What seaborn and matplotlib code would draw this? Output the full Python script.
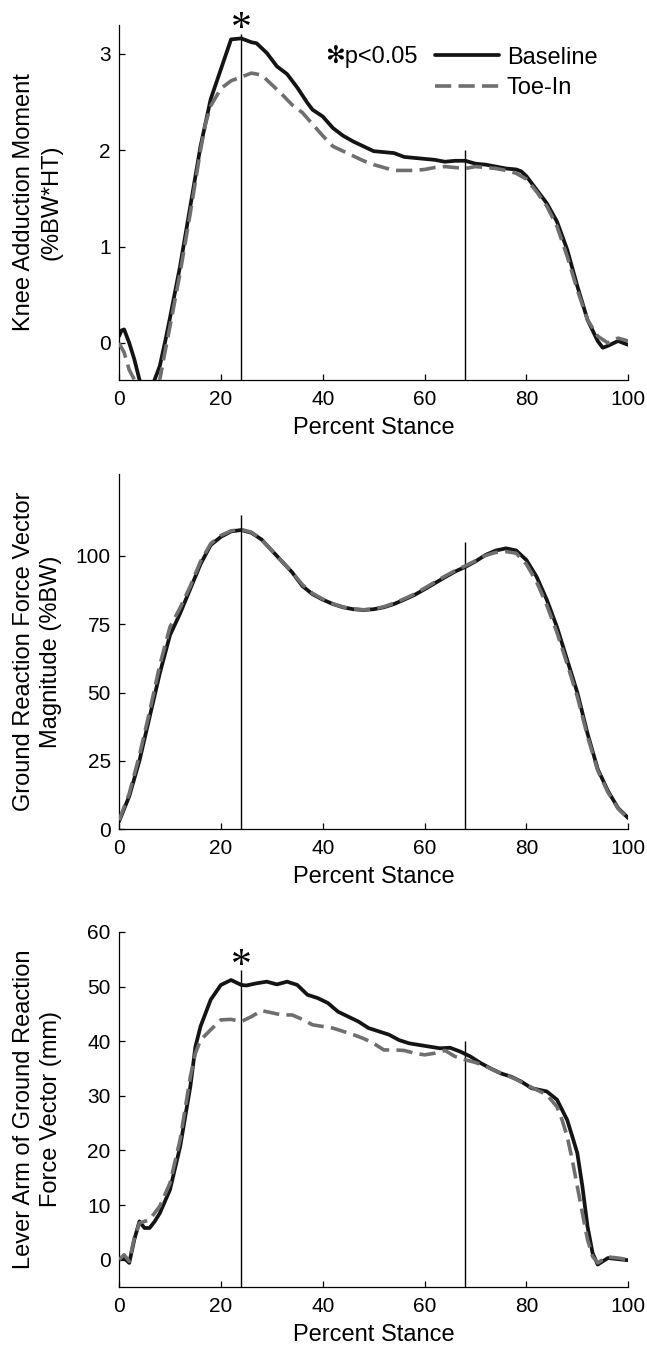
import numpy as np
import pandas as pd
import matplotlib
matplotlib.use("Agg")
import matplotlib.pyplot as plt
import seaborn as sns

# ==========================================
# Data
# ==========================================
# Panel 1: knee adduction moment (%BW*HT)
kam_base_x = [0, 0.5, 1, 2, 3, 4, 5.5, 7, 8, 9, 10, 12, 14, 16, 18, 20, 22, 24, 26, 27,
              29, 31, 33, 35, 37, 38, 40, 42, 44, 46, 48, 50, 52, 54, 56, 58, 60, 62, 64,
              66, 68, 70, 72, 74, 76, 78, 79, 80, 82, 84, 86, 88, 90, 92, 94, 95, 96, 98, 100]
kam_base_y = [0.07, 0.13, 0.14, 0.0, -0.17, -0.38, -0.6, -0.38, -0.24, 0.0, 0.26, 0.8, 1.42,
              2.04, 2.53, 2.84, 3.15, 3.16, 3.12, 3.11, 3.01, 2.87, 2.79, 2.65, 2.49, 2.42,
              2.35, 2.23, 2.15, 2.09, 2.04, 1.99, 1.98, 1.97, 1.93, 1.92, 1.91, 1.90, 1.88,
              1.89, 1.89, 1.86, 1.85, 1.83, 1.81, 1.80, 1.78, 1.73, 1.59, 1.45, 1.26, 0.97,
              0.59, 0.24, 0.02, -0.05, -0.03, 0.02, -0.02]
kam_toe_x = [0, 1, 2, 3, 5.5, 8, 9, 10, 12, 14, 16, 17, 18, 20, 22, 24, 26, 28, 30, 32, 34,
             36, 38, 40, 42, 44, 46, 48, 50, 52, 54, 56, 58, 60, 62, 64, 66, 68, 70, 72, 74,
             76, 78, 80, 82, 84, 86, 88, 90, 92, 94, 96, 98, 100]
kam_toe_y = [0.0, -0.1, -0.28, -0.38, -0.65, -0.38, -0.1, 0.17, 0.73, 1.35, 2.0, 2.28, 2.46,
             2.64, 2.72, 2.76, 2.80, 2.78, 2.68, 2.58, 2.47, 2.39, 2.27, 2.15, 2.04, 1.99,
             1.94, 1.89, 1.85, 1.82, 1.79, 1.79, 1.79, 1.80, 1.82, 1.83, 1.82, 1.81, 1.83,
             1.82, 1.81, 1.79, 1.76, 1.70, 1.57, 1.42, 1.21, 0.90, 0.55, 0.24, 0.07, 0.0,
             0.05, 0.02]

# Panel 2: ground reaction force vector magnitude (%BW)
grf_x = [0, 2, 4, 6, 8, 10, 12, 14, 16, 18, 20, 22, 24, 26, 28, 30, 32, 34, 36, 38, 40, 42,
         44, 46, 48, 50, 52, 54, 56, 58, 60, 62, 64, 66, 68, 70, 72, 74, 76, 78, 80, 82, 84,
         86, 88, 90, 92, 94, 96, 98, 100]
grf_base_y = [2.8, 12, 25, 41, 57, 71, 79, 88, 97, 104, 107, 109, 109.5, 108.5, 106, 102, 98,
              94, 89, 86, 84, 82.4, 81.2, 80.5, 80.2, 80.5, 81.2, 82.4, 84, 85.7, 87.8, 90,
              92.2, 94.3, 96, 98, 100.4, 102, 102.8, 102, 98.5, 92.4, 84, 74, 62, 50, 35, 22,
              14, 7.7, 4]
grf_toe_y = [3.2, 13, 27, 43, 60, 74, 81, 89, 98, 104.5, 107.5, 109.2, 109.7, 108.7, 106,
             102, 98, 94, 89.5, 86.3, 84.2, 82.5, 81.3, 80.6, 80.3, 80.6, 81.4, 82.7, 84.3,
             86, 88.2, 90.4, 92.6, 94.6, 96.4, 98.2, 100.2, 101.3, 101.6, 101, 97, 90.5, 82,
             72, 60.5, 48.5, 34, 21.5, 13.5, 7.5, 3.8]

# Panel 3: lever arm of ground reaction force vector (mm)
arm_base_x = [0, 1, 2, 3, 4, 5, 6, 7, 8, 10, 12, 14, 15, 16, 18, 20, 22, 24, 25, 27, 29, 31,
              33, 35, 37, 39, 41, 43, 45, 47, 49, 51, 53, 55, 57, 59, 61, 63, 65, 67, 69, 71,
              73, 75, 77, 79, 81, 84, 86, 88, 89, 90, 91, 92, 93, 94, 95, 96, 98, 100]
arm_base_y = [0, 0.3, -0.6, 3.7, 7, 5.8, 5.8, 7, 8.5, 12.8, 20.7, 31.7, 39, 42.7, 47.6, 50.3,
              51.2, 50.3, 50.2, 50.6, 50.9, 50.4, 50.9, 50.3, 48.5, 47.9, 47, 45.4, 44.5,
              43.6, 42.4, 41.8, 41.2, 40.2, 39.6, 39.3, 39, 38.7, 38.8, 38.1, 37.2, 36, 35,
              34.1, 33.5, 32.6, 31.4, 30.8, 29.3, 25.6, 22.6, 19.5, 13.4, 6.1, 1.2, -0.9,
              -0.3, 0.3, 0.1, -0.1]
arm_toe_x = [0, 1, 2, 3, 4, 6, 8, 10, 12, 14, 15, 16, 18, 20, 22, 24, 26, 28, 30, 32, 34, 36,
             38, 40, 42, 44, 46, 48, 50, 52, 54, 56, 58, 60, 62, 64, 66, 68, 70, 72, 74, 76,
             78, 80, 82, 84, 86, 87, 88, 89, 90, 91, 92, 93, 94, 95, 96, 98, 100]
arm_toe_y = [0, 0.9, -0.3, 4, 6.7, 7.3, 9.8, 14, 22, 33.5, 37.8, 40.2, 42.1, 43.9, 44, 43.6,
             44.5, 45.6, 45.2, 44.8, 44.8, 44, 43, 42.7, 42.4, 41.8, 41.2, 40.5, 39.6, 38.4,
             38.4, 38.3, 37.8, 37.5, 37.8, 38.3, 37.2, 36.6, 36.1, 35.4, 34.5, 33.8, 33, 32,
             31.1, 30.2, 28, 25.6, 22.6, 18.3, 13.4, 8.5, 3.7, 0.6, -0.6, 0, 0.5, 0.3, 0]

# events (vertical lines) and their top ends per panel
event_x = [24, 68]
event_tops = [[3.21, 2.0], [115, 105], [53, 40]]

ylabels = ["Knee Adduction Moment\n(%BW*HT)",
           "Ground Reaction Force Vector\nMagnitude (%BW)",
           "Lever Arm of Ground Reaction\nForce Vector (mm)"]
ylims = [(-0.384, 3.30), (0, 130), (-5, 60)]
yticks = [[0, 1, 2, 3], [0, 25, 50, 75, 100], [0, 10, 20, 30, 40, 50, 60]]
xticks = [0, 20, 40, 60, 80, 100]
star_y = [3.25, None, 53.6]

series = [
    ((kam_base_x, kam_base_y), (kam_toe_x, kam_toe_y)),
    ((grf_x, grf_base_y), (grf_x, grf_toe_y)),
    ((arm_base_x, arm_base_y), (arm_toe_x, arm_toe_y)),
]

# ==========================================
# Styling
# ==========================================
sns.set_theme(style="ticks")
plt.rcParams["font.family"] = ["Liberation Sans", "DejaVu Sans"]
plt.rcParams["font.size"] = 15
plt.rcParams["text.color"] = "black"
plt.rcParams["axes.labelcolor"] = "black"

base_color = "#141414"
toe_color = "#6f6f6f"
label_size = 17

fig = plt.figure(figsize=(6.47, 13.54), dpi=100)
axes_rects = [
    [0.184, 0.7194, 0.787, 0.2622],
    [0.184, 0.3877, 0.787, 0.2622],
    [0.184, 0.0495, 0.787, 0.2622],
]

for i, rect in enumerate(axes_rects):
    ax = fig.add_axes(rect)
    (bx, by), (tx, ty) = series[i]

    ax.vlines(event_x, ylims[i][0], event_tops[i], color="black", lw=1.0, zorder=1)

    sns.lineplot(x=tx, y=ty, ax=ax, color=toe_color, lw=2.6,
                 linestyle=(0, (4.5, 2.0)), label="Toe-In", zorder=3)
    sns.lineplot(x=bx, y=by, ax=ax, color=base_color, lw=2.7,
                 label="Baseline", zorder=2)

    ax.set_xlim(0, 100)
    ax.set_ylim(*ylims[i])
    ax.set_xticks(xticks)
    ax.set_yticks(yticks[i])
    sns.despine(ax=ax)
    for s in ["left", "bottom"]:
        ax.spines[s].set_linewidth(0.9)
        ax.spines[s].set_color("black")
    ax.tick_params(direction="in", length=4, width=0.9, colors="black",
                   labelsize=15, pad=6)
    ax.tick_params(axis="x", pad=7)

    ax.set_xlabel("Percent Stance", fontsize=label_size, labelpad=6, color="black")
    ax.set_ylabel(ylabels[i], fontsize=label_size, linespacing=1.3, color="black")
    ax.yaxis.set_label_coords(-0.112, 0.5)

    if star_y[i] is not None:
        ax.text(24, star_y[i], "*", ha="center", va="center", fontsize=30,
                family="Liberation Serif", color="black", clip_on=False)

    if i == 0:
        handles, labels = ax.get_legend_handles_labels()
        order = [labels.index("Baseline"), labels.index("Toe-In")]
        leg = ax.legend([handles[k] for k in order], [labels[k] for k in order],
                        loc="upper right", bbox_to_anchor=(0.963, 0.972), frameon=False,
                        handlelength=2.7, handletextpad=0.34, labelspacing=0.37,
                        borderpad=0, fontsize=label_size)
        for t in leg.get_texts():
            t.set_color("black")
        ax.text(0.405, 0.912, "\u273bp<0.05", transform=ax.transAxes,
                ha="left", va="center", fontsize=label_size, color="black",
                family=["Liberation Sans", "DejaVu Sans"])
    else:
        ax.get_legend().remove()

fig.savefig("out.png", dpi=100)
